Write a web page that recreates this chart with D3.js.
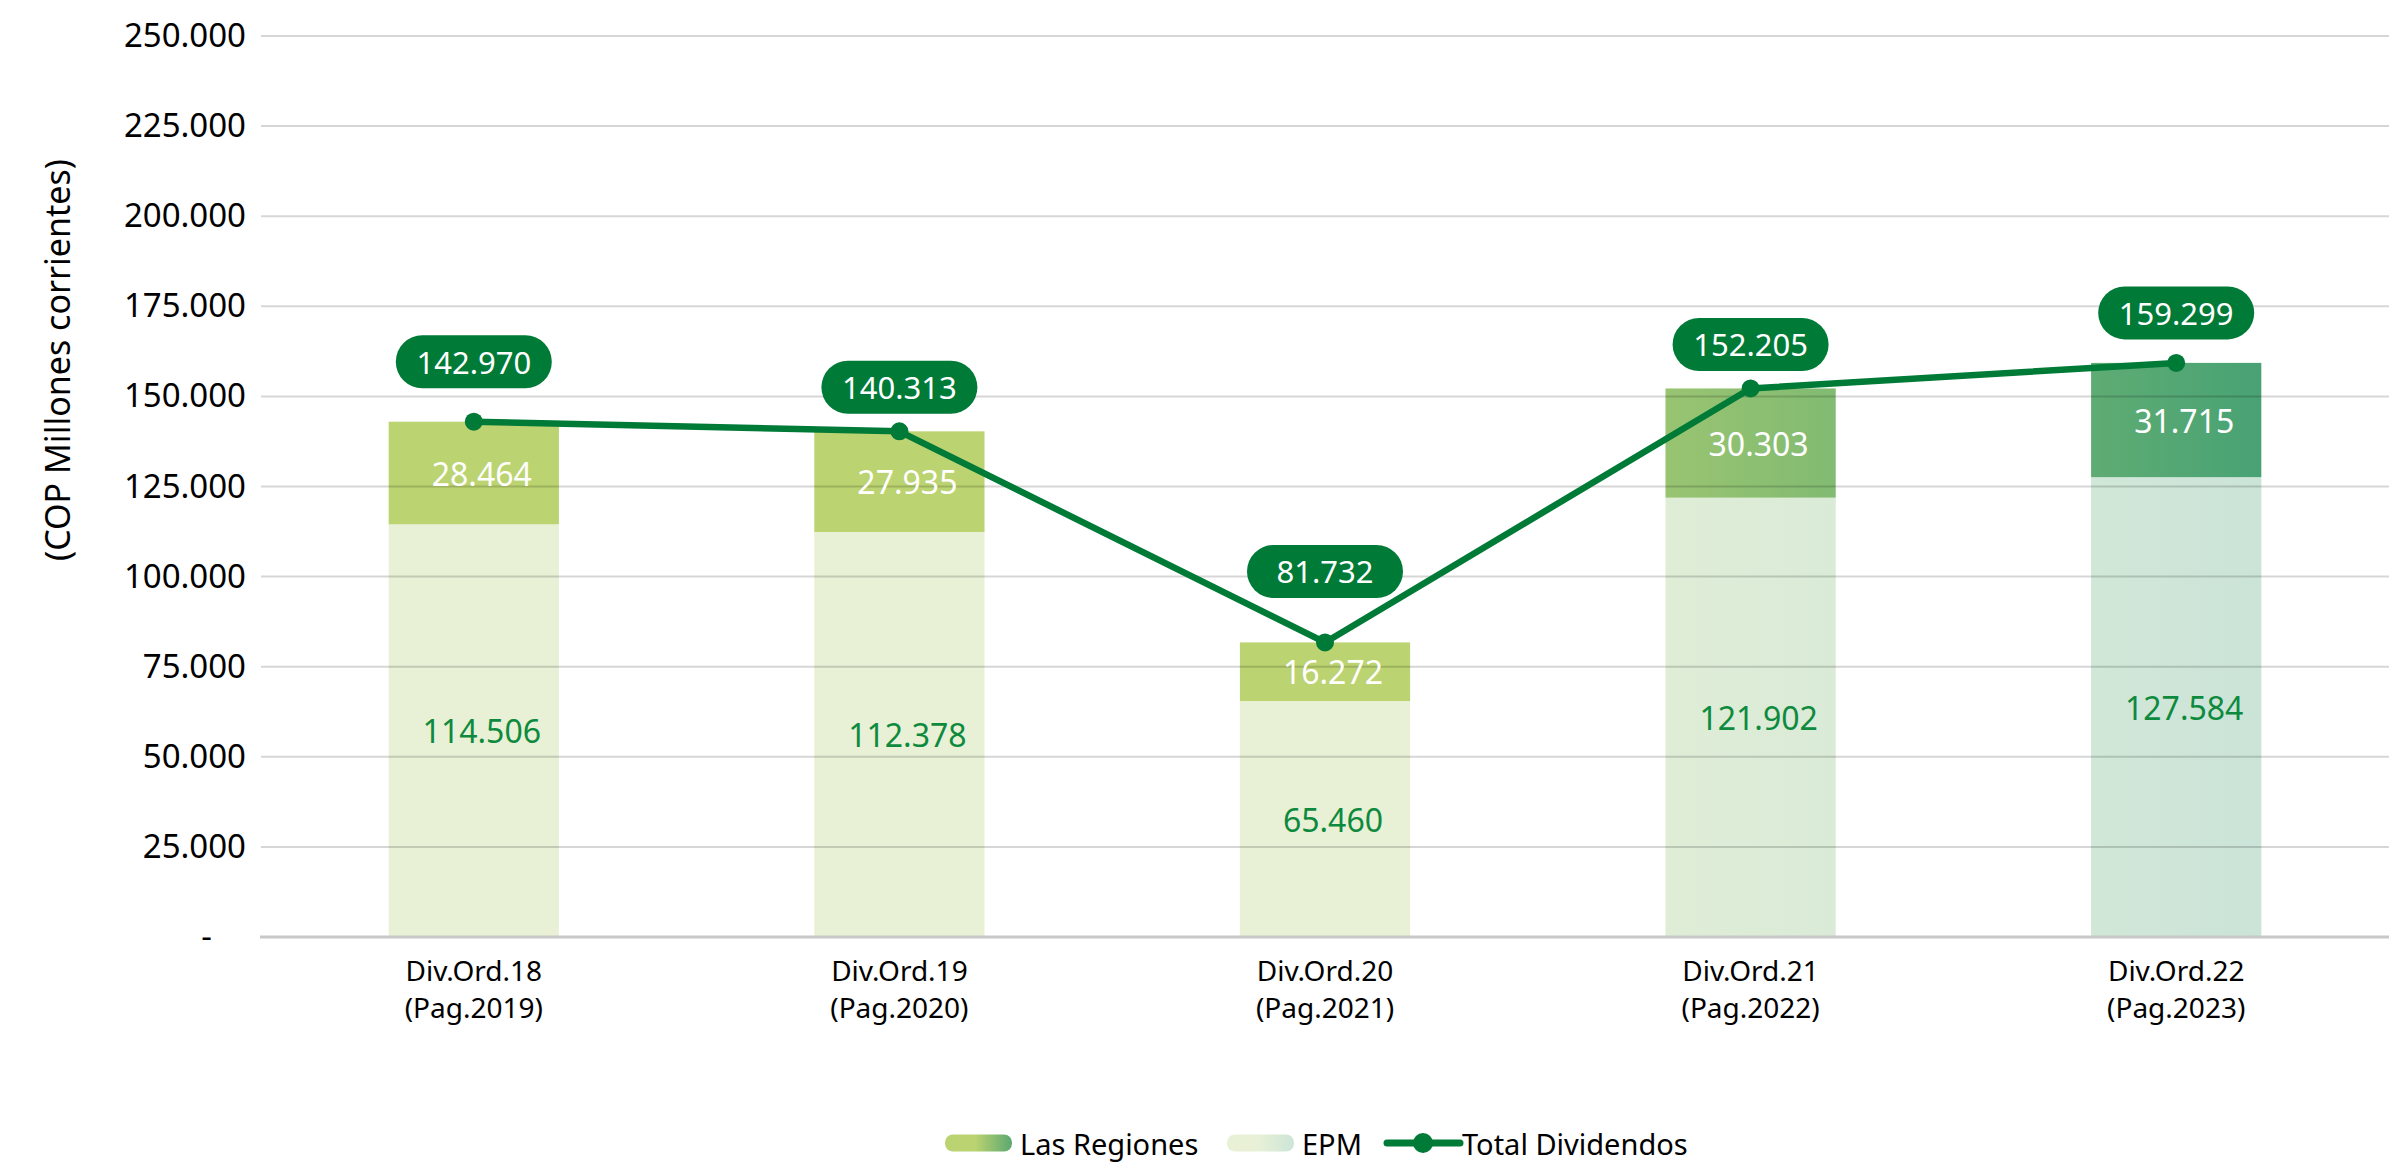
<!DOCTYPE html>
<html>
<head>
<meta charset="utf-8">
<script src="https://cdnjs.cloudflare.com/ajax/libs/d3/7.8.5/d3.min.js"></script>
<style>
  html, body { margin: 0; padding: 0; background: #fff; }
  svg { display: block; font-family: "Noto Sans", sans-serif; }
</style>
</head>
<body>
<svg id="chart"></svg>
<script>
// data
const categories = ["Div.Ord.18\n(Pag.2019)", "Div.Ord.19\n(Pag.2020)", "Div.Ord.20\n(Pag.2021)", "Div.Ord.21\n(Pag.2022)", "Div.Ord.22\n(Pag.2023)"];
const epm = [114506, 112378, 65460, 121902, 127584];
const regiones = [28464, 27935, 16272, 30303, 31715];
const totals = [142970, 140313, 81732, 152205, 159299];
const yTicks = [0, 25000, 50000, 75000, 100000, 125000, 150000, 175000, 200000, 225000, 250000];
const seriesNames = ["Las Regiones", "EPM", "Total Dividendos"];
// manual lift of the total labels above their points (as placed in the original)
const labelLift = [60, 44, 71, 44, 50];

const width = 2397;
const height = 1165;
const green = "#007a37";

const locale = d3.formatLocale({ decimal: ",", thousands: ".", grouping: [3], currency: ["$", ""] });
const fmt = locale.format(",");

const svg = d3.select("#chart").attr("width", width).attr("height", height);

const x = d3.scaleBand().domain(categories).range([261, 2389]).paddingInner(0.6).paddingOuter(0.3);
const y = d3.scaleLinear().domain([0, 250000]).range([937, 36]);

const rows = categories.map((c, i) => ({ cat: c, epm: epm[i], regiones: regiones[i], total: totals[i] }));
const stacked = d3.stack().keys(["epm", "regiones"])(rows);

// gradients: colour shifts from bar 3 to bar 5
const defs = svg.append("defs");
const gx1 = x(categories[2]) + x.bandwidth();
const gx2 = x(categories[4]) + x.bandwidth();
function grad(id, c1, c2, user) {
  const g = defs.append("linearGradient").attr("id", id);
  if (user) g.attr("gradientUnits", "userSpaceOnUse").attr("x1", gx1).attr("x2", gx2).attr("y1", 0).attr("y2", 0);
  g.append("stop").attr("offset", user ? 0 : 0.45).attr("stop-color", c1);
  g.append("stop").attr("offset", 1).attr("stop-color", c2);
}
grad("gReg", "#bbd370", "#48a274", true);
grad("gEpm", "#e8f1d6", "#cbe4d8", true);
grad("lReg", "#bbd370", "#5ba870", false);
grad("lEpm", "#e8f1d6", "#cde5d8", false);

// bars
const fills = { epm: "url(#gEpm)", regiones: "url(#gReg)" };
svg.append("g")
  .selectAll("g")
  .data(stacked)
  .join("g")
  .attr("fill", (d) => fills[d.key])
  .selectAll("rect")
  .data((d) => d)
  .join("rect")
  .attr("x", (d) => x(d.data.cat))
  .attr("y", (d) => y(d[1]))
  .attr("width", x.bandwidth())
  .attr("height", (d) => y(d[0]) - y(d[1]));

// gridlines drawn over bars, semi-transparent
const yAxis = d3.axisLeft(y)
  .tickValues(yTicks)
  .tickSize(0)
  .tickPadding(0)
  .tickFormat((d) => (d === 0 ? "-" : fmt(d)));

svg.append("g")
  .selectAll("line")
  .data(yTicks.filter((d) => d > 0))
  .join("line")
  .attr("x1", 261)
  .attr("x2", 2389)
  .attr("y1", (d) => y(d))
  .attr("y2", (d) => y(d))
  .attr("stroke", "#000")
  .attr("stroke-opacity", 0.16)
  .attr("stroke-width", 2);

svg.append("line")
  .attr("x1", 260).attr("x2", 2389)
  .attr("y1", y(0)).attr("y2", y(0))
  .attr("stroke", "#c8c8c8")
  .attr("stroke-width", 3);

const yg = svg.append("g")
  .attr("transform", "translate(246,0)")
  .call(yAxis);
yg.select(".domain").remove();
yg.selectAll("text")
  .attr("font-size", 33)
  .attr("font-family", "Noto Sans, sans-serif")
  .attr("fill", "#000")
  .attr("dx", (d) => (d === 0 ? -34 : 0));

// y title
svg.append("text")
  .attr("transform", `translate(57,360) rotate(-90)`)
  .attr("text-anchor", "middle")
  .attr("dominant-baseline", "central")
  .attr("font-size", 34)
  .attr("fill", "#000")
  .text("(COP Millones corrientes)");

// x labels, two lines each
const xAxis = d3.axisBottom(x).tickSize(0).tickPadding(0);
const xg = svg.append("g").attr("transform", `translate(0,${y(0)})`).call(xAxis);
xg.select(".domain").remove();
xg.selectAll("text").each(function (d) {
  const t = d3.select(this).text(null).attr("font-size", 28).attr("fill", "#000").attr("font-family", "Noto Sans, sans-serif");
  d.split("\n").forEach((s, i) => {
    t.append("tspan").attr("x", 0).attr("y", 24 + i * 37).attr("dy", "0.71em").text(s);
  });
});

// segment labels
const segColor = { epm: "#0e8a3e", regiones: "#ffffff" };
svg.append("g")
  .selectAll("g")
  .data(stacked)
  .join("g")
  .attr("fill", (d) => segColor[d.key])
  .selectAll("text")
  .data((d) => d)
  .join("text")
  .attr("x", (d) => x(d.data.cat) + x.bandwidth() / 2 + 8)
  .attr("y", (d) => (y(d[0]) + y(d[1])) / 2)
  .attr("text-anchor", "middle")
  .attr("dominant-baseline", "central")
  .attr("font-size", 32)
  .text((d) => fmt(d[1] - d[0]));

// total line
const cx = (d) => x(d.cat) + x.bandwidth() / 2;
const line = d3.line().x(cx).y((d) => y(d.total));
svg.append("path")
  .datum(rows)
  .attr("d", line)
  .attr("fill", "none")
  .attr("stroke", green)
  .attr("stroke-width", 6.5)
  .attr("stroke-linejoin", "round");

svg.append("g")
  .selectAll("circle")
  .data(rows)
  .join("circle")
  .attr("cx", cx)
  .attr("cy", (d) => y(d.total))
  .attr("r", 9)
  .attr("fill", green);

// total labels in pills
const pills = svg.append("g")
  .selectAll("g")
  .data(rows)
  .join("g")
  .attr("transform", (d, i) => `translate(${cx(d)},${y(d.total) - labelLift[i]})`);
pills.append("rect")
  .attr("x", -78).attr("y", -26.5)
  .attr("width", 156).attr("height", 53)
  .attr("rx", 26.5)
  .attr("fill", green);
pills.append("text")
  .attr("text-anchor", "middle")
  .attr("dominant-baseline", "central")
  .attr("fill", "#fff")
  .attr("font-size", 31)
  .text((d) => fmt(d.total));

// legend
const legend = svg.append("g").attr("transform", "translate(0,1143)");
const items = [
  { name: seriesNames[0], x: 945, type: "rect", fill: "url(#lReg)" },
  { name: seriesNames[1], x: 1227, type: "rect", fill: "url(#lEpm)" },
  { name: seriesNames[2], x: 1387, type: "line" },
];
items.forEach((it) => {
  const g = legend.append("g").attr("transform", `translate(${it.x},0)`);
  if (it.type === "rect") {
    g.append("rect").attr("x", 0).attr("y", -8.5).attr("width", 67).attr("height", 17).attr("rx", 8).attr("fill", it.fill);
  } else {
    g.append("line").attr("x1", 0).attr("x2", 73).attr("y1", 0).attr("y2", 0).attr("stroke", green).attr("stroke-width", 7).attr("stroke-linecap", "round");
    g.append("circle").attr("cx", 36).attr("cy", 0).attr("r", 10).attr("fill", green);
  }
  g.append("text")
    .attr("x", 75)
    .attr("y", 0)
    .attr("dominant-baseline", "central")
    .attr("font-size", 29)
    .attr("fill", "#000")
    .text(it.name);
});
</script>
</body>
</html>
